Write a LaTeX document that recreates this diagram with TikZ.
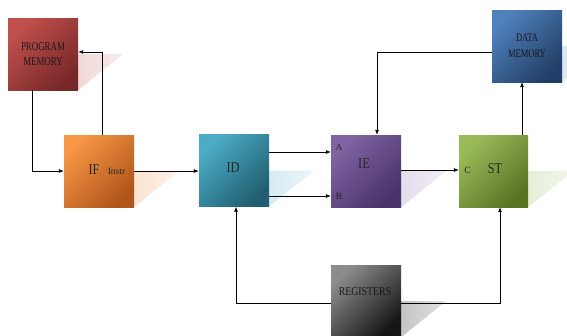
\documentclass[tikz,border=0pt]{standalone}
\usepackage{fontspec}
\setmainfont{Liberation Serif}
\newfontfamily\tallserif[FakeStretch=0.74]{Liberation Serif}
\newfontfamily\midserif[FakeStretch=0.82]{Liberation Serif}
\usetikzlibrary{arrows.meta,backgrounds}

% Stage colours: light corner, dark corner, shadow tint
\definecolor{pmA}{HTML}{C0504D}\definecolor{pmB}{HTML}{782828}\definecolor{pmS}{HTML}{F2D8D8}
\definecolor{ifA}{HTML}{F79646}\definecolor{ifB}{HTML}{B0561A}\definecolor{ifS}{HTML}{FCE4D2}
\definecolor{idA}{HTML}{4BACC6}\definecolor{idB}{HTML}{215F70}\definecolor{idS}{HTML}{D6ECF2}
\definecolor{ieA}{HTML}{8064A2}\definecolor{ieB}{HTML}{48336A}\definecolor{ieS}{HTML}{E3DDEC}
\definecolor{stA}{HTML}{9BBB59}\definecolor{stB}{HTML}{5A7424}\definecolor{stS}{HTML}{E6EED8}
\definecolor{dmA}{HTML}{4F81BD}\definecolor{dmB}{HTML}{233E66}\definecolor{dmS}{HTML}{DCE5F1}
\definecolor{rgA}{HTML}{8C8C8C}\definecolor{rgB}{HTML}{161616}\definecolor{rgS}{HTML}{C4C4C4}

\tikzset{
  stagebox/.style 2 args={rectangle, minimum width=70pt, minimum height=72pt,
    inner sep=0pt, top color=#1, bottom color=#2, shading angle=45,
    text=black!90, font=\tallserif\fontsize{12}{15}\selectfont, align=center},
  biglabel/.style={font=\midserif\fontsize{15}{16}\selectfont, text=black!85},
  smalllabel/.style={font=\fontsize{9.5}{10}\selectfont, text=black!85},
  arr/.style={draw=black, line width=0.7pt, -{Latex[length=5pt,width=4pt]}},
  flatshadow/.style={left color=#1, right color=white!50!#1, draw=none}
}

\begin{document}
\begin{tikzpicture}[x=1pt,y=-1pt]
\useasboundingbox (0,0) rectangle (567,335);

% stages
\node[stagebox={pmA}{pmB}] (pm) at (43,54) {PROGRAM\\MEMORY};
\node[stagebox={ifA}{ifB}] (if) at (99,171) {};
\node[stagebox={idA}{idB}] (id) at (234,170.5) {};
\node[stagebox={ieA}{ieB}] (ie) at (366,171) {};
\node[stagebox={stA}{stB}, minimum width=69pt] (st) at (493.5,171) {};
\node[stagebox={dmA}{dmB}, font=\tallserif\fontsize{11.5}{16}\selectfont] (dm) at (527,46) {DATA\\MEMORY};
\node[stagebox={rgA}{rgB}] (rg) at (366,301) {};

% labels inside the stages
\node[biglabel] (iflbl) at (94,170) {IF};
\node[smalllabel] (instr) at (116.5,171) {Instr};
\node[biglabel] (idlbl) at (233,168) {ID};
\node[biglabel] (ielbl) at (364,164) {IE};
\node[smalllabel] (alab) at (339,147) {A};
\node[smalllabel] (blab) at (339,196) {B};
\node[smalllabel] (clab) at (467.5,170) {C};
\node[biglabel] (stlbl) at (495,169) {ST};
\node[font=\midserif\fontsize{12}{13}\selectfont, text=black!90] (rglbl) at (365,292) {REGISTERS};

% flat cast shadows behind the stages
\begin{pgfonlayer}{background}
  \foreach \b/\c in {pm/pmS, if/ifS, id/idS, ie/ieS, st/stS, dm/dmS, rg/rgS}
    \path[flatshadow=\c] (\b.east) -- ++(45,0) -- (\b.south east) -- cycle;
\end{pgfonlayer}

% connectors
\draw[arr] ([xshift=-11pt]pm.south) |- (if.west);
\draw[arr] ([xshift=3pt]if.north) |- ([yshift=2pt]pm.east);
\draw[arr] (if.east) -- (id.west |- if.east);
\draw[arr] ([yshift=18.5pt]id.east) -- ([yshift=18.5pt]id.east -| ie.west);
\draw[arr] ([yshift=-25.5pt]id.east) -- ([yshift=-25.5pt]id.east -| ie.west);
\draw[arr] ([yshift=1pt]ie.east) -- ([yshift=1pt]st.west);
\draw[arr] ([xshift=28.5pt]st.north) -- ([xshift=28.5pt]st.north |- dm.south);
\draw[arr] ([yshift=-6pt]dm.west) -| ([xshift=11pt]ie.north);
\draw[arr] ([yshift=-2pt]rg.west) -| ([xshift=2pt]id.south);
\draw[arr] ([yshift=-2pt]rg.east) -| ([xshift=6.5pt]st.south);
\end{tikzpicture}
\end{document}
